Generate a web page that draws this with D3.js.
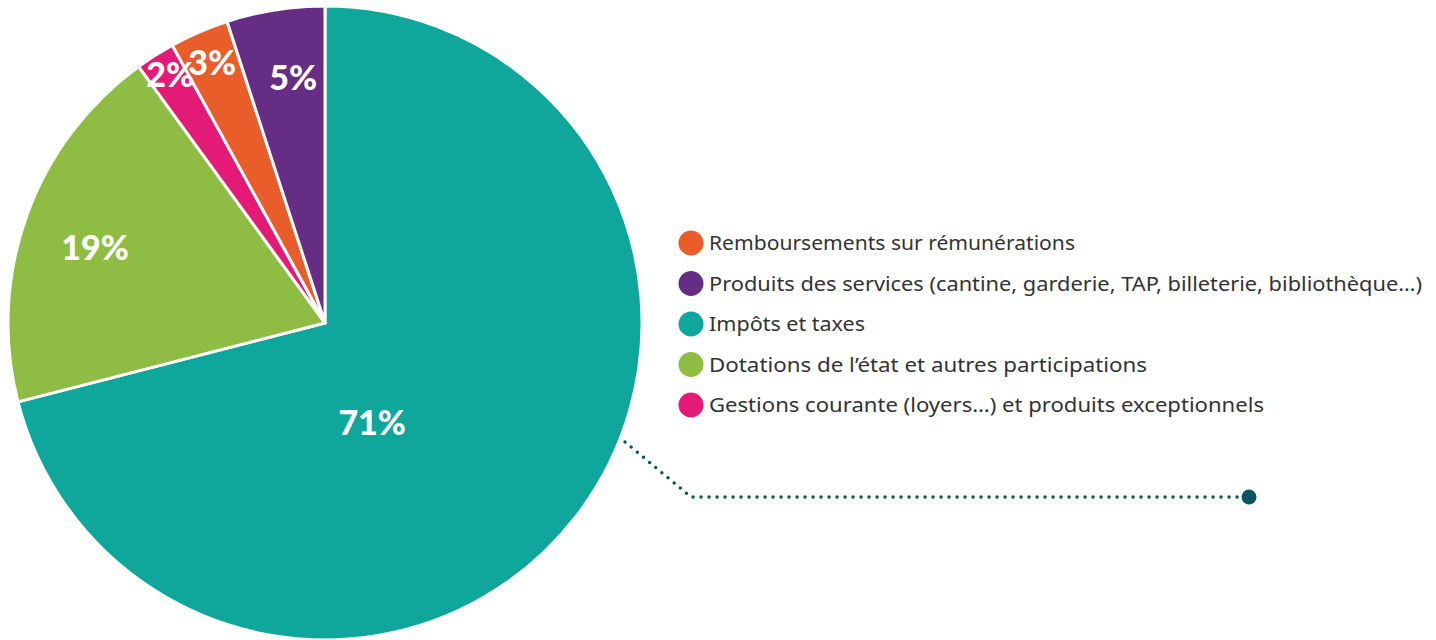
<!DOCTYPE html>
<html>
<head>
<meta charset="utf-8">
<script src="https://cdn.jsdelivr.net/npm/d3@7"></script>
<style>
  body { margin: 0; background: #fff; }
  svg { display: block; }
</style>
</head>
<body>
<div id="chartContainer"></div>
<script>
const width = 1436;
const height = 640;

// slices, clockwise from 12 o'clock
const sliceNames = ["Impôts et taxes", "Dotations de l’état et autres participations", "Gestions courante (loyers…) et produits exceptionnels", "Remboursements sur rémunérations", "Produits des services  (cantine, garderie, TAP, billeterie, bibliothèque…)"];
const sliceValues = [71, 19, 2, 3, 5];
const sliceColors = ["#0fa69b", "#8fbc43", "#e31b77", "#e95d2b", "#652e84"];

// legend order
const legendNames = ["Remboursements sur rémunérations", "Produits des services  (cantine, garderie, TAP, billeterie, bibliothèque…)", "Impôts et taxes", "Dotations de l’état et autres participations", "Gestions courante (loyers…) et produits exceptionnels"];
const legendColors = ["#e95d2b", "#652e84", "#0fa69b", "#8fbc43", "#e31b77"];

// label placement (angle in degrees from top, distance from centre)
const labelAngle = [154.6, 288.1, 328.1, 336.6, 352.6];
const labelDist = [110, 242, 293, 284, 247];

const cx = 325, cy = 323, radius = 317;

const svg = d3.select("#chartContainer")
    .append("svg")
    .attr("width", width)
    .attr("height", height);

const pie = d3.pie().sort(null).value(d => d);
const arc = d3.arc().innerRadius(0).outerRadius(radius);
const arcs = pie(sliceValues);

const g = svg.append("g").attr("transform", `translate(${cx},${cy})`);

g.selectAll("path")
    .data(arcs)
    .enter()
    .append("path")
    .attr("d", arc)
    .attr("fill", (d, i) => sliceColors[i])
    .attr("stroke", "#fff")
    .attr("stroke-width", 3)
    .attr("stroke-linejoin", "round");

g.selectAll("text.pct")
    .data(arcs)
    .enter()
    .append("text")
    .attr("class", "pct")
    .attr("x", (d, i) => labelDist[i] * Math.sin(labelAngle[i] * Math.PI / 180))
    .attr("y", (d, i) => -labelDist[i] * Math.cos(labelAngle[i] * Math.PI / 180))
    .attr("dy", "0.36em")
    .attr("text-anchor", "middle")
    .attr("fill", "#fff")
    .style("font-family", "Lato, 'DejaVu Sans', sans-serif")
    .style("font-weight", "900")
    .style("font-size", "34px")
    .text(d => d.data + "%");

// legend
const legend = svg.append("g");
const ly = d3.scalePoint().domain(d3.range(legendNames.length)).range([243, 405]);

legend.selectAll("circle")
    .data(legendNames)
    .enter()
    .append("circle")
    .attr("cx", 691)
    .attr("cy", (d, i) => ly(i))
    .attr("r", 12.5)
    .attr("fill", (d, i) => legendColors[i]);

const legendWidths = [366, 713, 156, 438, 555];
legend.selectAll("text")
    .data(legendNames)
    .enter()
    .append("text")
    .attr("x", 709)
    .attr("y", (d, i) => ly(i))
    .attr("dy", "0.36em")
    .attr("fill", "#333")
    .attr("textLength", (d, i) => legendWidths[i])
    .attr("lengthAdjust", "spacingAndGlyphs")
    .style("font-family", "'Noto Sans', 'DejaVu Sans', sans-serif")
    .style("font-size", "20px")
    .text(d => d);

// dotted leader line from the big slice
const leader = [[625, 442], [691, 497], [1249, 497]];
svg.append("path")
    .attr("d", d3.line()(leader))
    .attr("fill", "none")
    .attr("stroke", "#0b5561")
    .attr("stroke-width", 3.5)
    .attr("stroke-linecap", "round")
    .attr("stroke-dasharray", "0 8");

svg.append("circle")
    .attr("cx", leader[2][0])
    .attr("cy", leader[2][1])
    .attr("r", 7.5)
    .attr("fill", "#0b5561");
</script>
</body>
</html>
